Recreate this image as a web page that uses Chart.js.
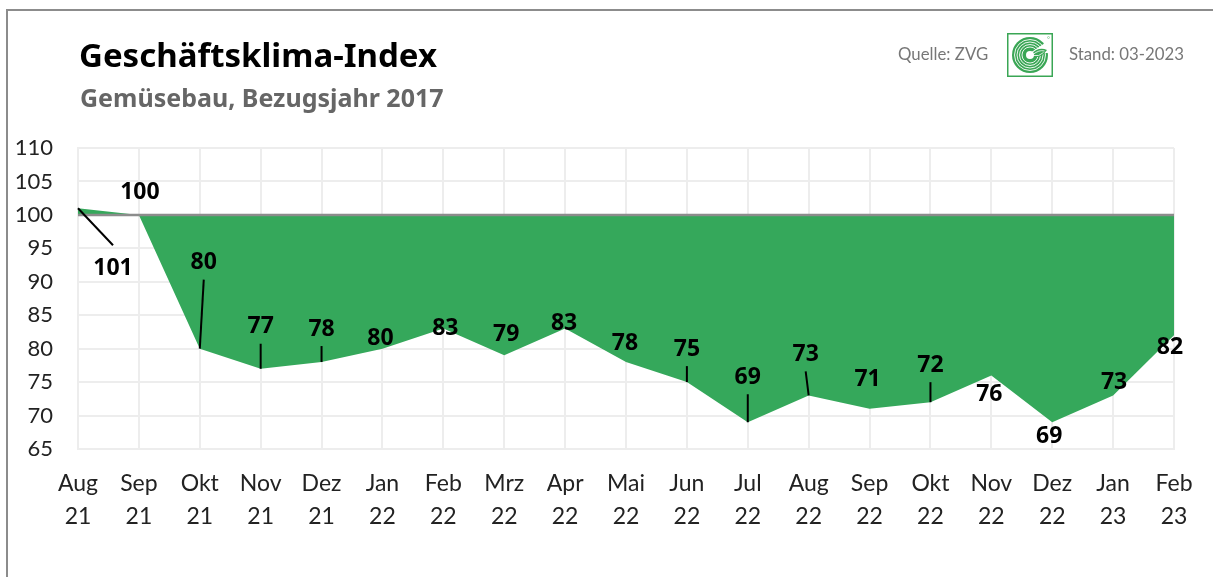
<!DOCTYPE html>
<html lang="de">
<head>
<meta charset="utf-8">
<title>Geschäftsklima-Index Gemüsebau</title>
<script src="https://cdn.jsdelivr.net/npm/chart.js@4.4.1/dist/chart.umd.min.js"></script>
<style>
  html, body { margin: 0; padding: 0; background: #fff; }
  #frame { position: relative; width: 1213px; height: 577px; overflow: hidden; background: #fff; font-family: Lato, "Noto Sans", sans-serif; }
  #border { position: absolute; left: 6px; top: 9px; width: 1300px; height: 700px; border-left: 2px solid #8c8c8c; border-top: 2px solid #8c8c8c; box-sizing: border-box; pointer-events: none; z-index: 3; }
  #chartBox { position: absolute; left: 0; top: 0; width: 1213px; height: 577px; }
  .txt { position: absolute; white-space: nowrap; z-index: 2; }
  #title { left: 79px; top: 38px; font-family: "Noto Sans", sans-serif; font-size: 33px; line-height: 33px; font-weight: 700; color: #000; }
  #subtitle { left: 80px; top: 85px; font-family: "Noto Sans", sans-serif; font-size: 25px; line-height: 25px; font-weight: 700; color: #666; }
  #source { left: 898px; top: 45px; font-size: 16.8px; line-height: 17px; color: #777; }
  #stand { left: 1069px; top: 45px; font-size: 16.8px; line-height: 17px; color: #777; }
  #logo { position: absolute; left: 1007px; top: 33px; z-index: 2; }
</style>
</head>
<body>
<div id="frame">
  <div id="chartBox"><canvas id="chart"></canvas></div>
  <div id="border"></div>
  <div class="txt" id="title">Geschäftsklima-Index</div>
  <div class="txt" id="subtitle">Gemüsebau, Bezugsjahr 2017</div>
  <div class="txt" id="source">Quelle: ZVG</div>
  <svg id="logo" width="46" height="44" viewBox="0 0 46 44">
    <rect x="0.75" y="0.75" width="44.5" height="42.5" fill="#fff" stroke="#3aa655" stroke-width="1.5"/>
    <circle cx="23" cy="22" r="18" fill="#3aa655"/>
    <g fill="none" stroke="#fff" stroke-width="0.9">
      <circle cx="23" cy="22" r="15.5"/>
      <circle cx="23" cy="22" r="13"/>
      <circle cx="23" cy="22" r="10.5"/>
      <circle cx="23" cy="22" r="8"/>
    </g>
    <path d="M23 20 L41 8 L41 20 Z" fill="#fff"/>
    <path d="M24 21 Q32 13 40 17 Q33 27 24 23 Z" fill="#3aa655"/>
    <path d="M26 21.5 Q32 16.5 37.5 18 M26 22.5 Q32 24 36.5 19.5" fill="none" stroke="#fff" stroke-width="0.8"/>
    <circle cx="23" cy="22" r="4" fill="#fff"/>
    <circle cx="41.5" cy="4.5" r="1" fill="none" stroke="#3aa655" stroke-width="0.4"/>
  </svg>
  <div class="txt" id="stand">Stand: 03-2023</div>
</div>
<script>
// Monthly business climate index, vegetable growing (base year 2017 = 100)
const months = ['Aug', 'Sep', 'Okt', 'Nov', 'Dez', 'Jan', 'Feb', 'Mrz', 'Apr', 'Mai', 'Jun', 'Jul', 'Aug', 'Sep', 'Okt', 'Nov', 'Dez', 'Jan', 'Feb'];
const years = ['21', '21', '21', '21', '21', '22', '22', '22', '22', '22', '22', '22', '22', '22', '22', '22', '22', '23', '23'];
const indexValues = [101, 100, 80, 77, 78, 80, 83, 79, 83, 78, 75, 69, 73, 71, 72, 76, 69, 73, 82];
const baseLevel = 100;
const yTicks = [65, 70, 75, 80, 85, 90, 95, 100, 105, 110];

// Label placement relative to each point (pixels) and whether a leader line is drawn
const labelShift = [[35, 59], [1, -23], [4, -87], [0, -43], [0, -34], [-2, -11], [2, -1], [2, -22], [-1, -6], [-1, -20],
                    [0, -34], [0, -46], [-3, -42], [-2, -30], [0, -38], [-2, 18], [-3, 13], [1, -14], [-4, 11]];
const withLeader = [true, false, true, true, true, false, false, false, false, false,
                    true, true, true, false, true, false, false, false, false];

const labels = months.map((m, i) => [m, years[i]]);
const green = '#35a85b';
const gridColor = '#ededed';

const valueLabels = {
  id: 'valueLabels',
  afterDatasetsDraw(chart) {
    const meta = chart.getDatasetMeta(1);
    const ctx = chart.ctx;
    ctx.save();
    ctx.font = '700 23px "Noto Sans", Lato, sans-serif';
    ctx.fillStyle = '#000';
    ctx.textAlign = 'center';
    ctx.textBaseline = 'middle';
    ctx.strokeStyle = '#000';
    ctx.lineWidth = 2;
    meta.data.forEach((pt, i) => {
      const lx = pt.x + labelShift[i][0];
      const ly = pt.y + labelShift[i][1];
      if (withLeader[i]) {
        const endY = labelShift[i][1] < 0 ? ly + 18 : ly - 22;
        ctx.beginPath();
        ctx.moveTo(pt.x, pt.y);
        ctx.lineTo(lx, endY);
        ctx.stroke();
      }
      ctx.fillText(String(indexValues[i]), lx, ly + 1);
    });
    ctx.restore();
  }
};

new Chart(document.getElementById('chart'), {
  type: 'line',
  data: {
    labels: labels,
    datasets: [
      {
        label: 'Basis',
        data: months.map(() => baseLevel),
        borderColor: '#8c8c8c',
        borderWidth: 2.5,
        pointRadius: 0,
        fill: false,
        tension: 0
      },
      {
        label: 'Geschäftsklima',
        data: indexValues,
        borderColor: 'rgba(0,0,0,0)',
        borderWidth: 0,
        backgroundColor: green,
        pointRadius: 0,
        fill: 0,
        tension: 0
      }
    ]
  },
  options: {
    responsive: true,
    maintainAspectRatio: false,
    animation: false,
    devicePixelRatio: 1,
    layout: { padding: { left: 0, right: 39, top: 148, bottom: 0 } },
    plugins: { legend: { display: false }, tooltip: { enabled: false } },
    scales: {
      x: {
        offset: false,
        grid: { color: gridColor, lineWidth: 2, drawTicks: false },
        border: { color: gridColor, width: 2 },
        ticks: {
          color: '#222',
          font: { family: 'Lato, "Noto Sans", sans-serif', size: 23, lineHeight: 1.45 },
          padding: 18,
          maxRotation: 0,
          autoSkip: false
        },
        afterFit(scale) { scale.height = 128; }
      },
      y: {
        min: 65,
        max: 110,
        afterBuildTicks(scale) { scale.ticks = yTicks.map(v => ({ value: v })); },
        grid: { color: gridColor, lineWidth: 2, drawTicks: false },
        border: { color: gridColor, width: 2 },
        ticks: {
          color: '#222',
          font: { family: 'Lato, "Noto Sans", sans-serif', size: 22 },
          padding: 25
        },
        afterFit(scale) { scale.width = 78; }
      }
    }
  },
  plugins: [valueLabels]
});
</script>
</body>
</html>
